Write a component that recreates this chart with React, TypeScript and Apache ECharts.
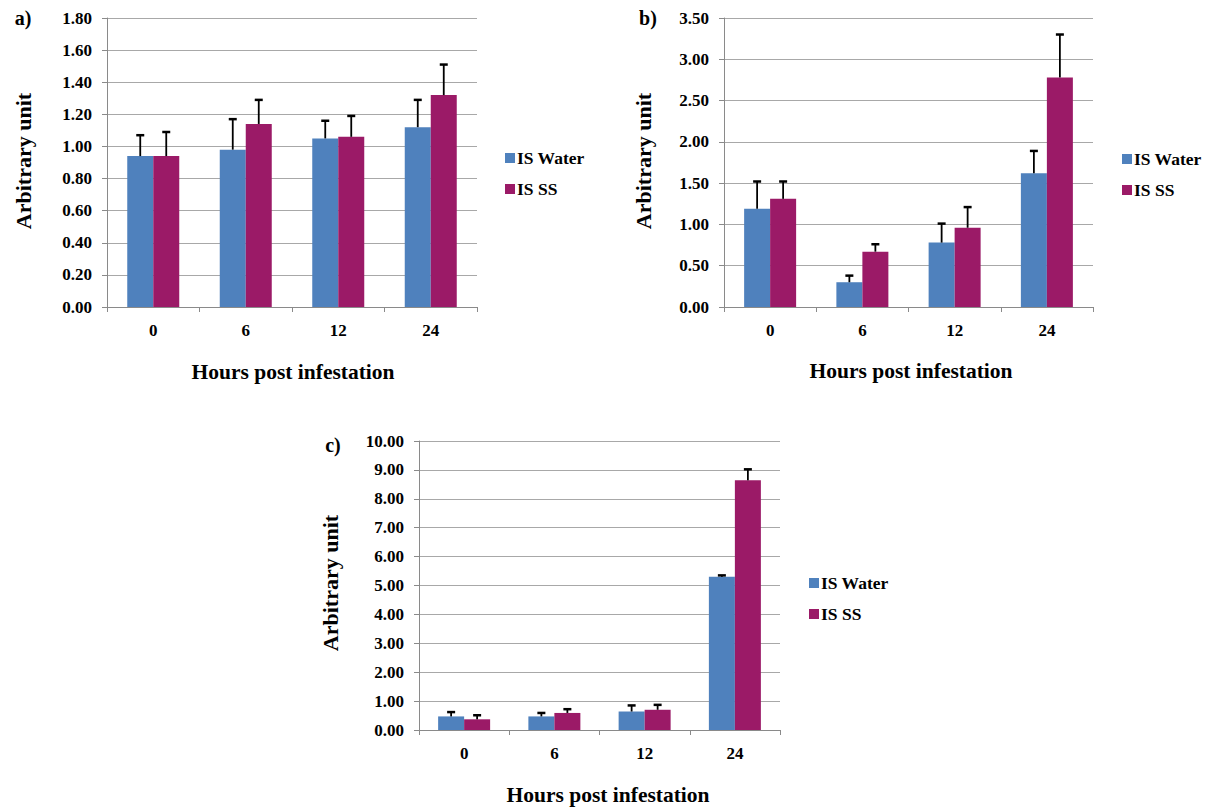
import React, { useEffect, useRef } from "react";
import * as echarts from "echarts";

const categories = ["0", "6", "12", "24"];
const seriesNames = ["IS Water", "IS SS"];

// Panel a
const aWater = [0.94, 0.98, 1.05, 1.12];
const aWaterErr = [0.13, 0.19, 0.11, 0.17];
const aSS = [0.94, 1.14, 1.06, 1.32];
const aSSErr = [0.15, 0.15, 0.13, 0.19];

// Panel b
const bWater = [1.19, 0.3, 0.78, 1.62];
const bWaterErr = [0.33, 0.08, 0.23, 0.27];
const bSS = [1.31, 0.67, 0.96, 2.78];
const bSSErr = [0.21, 0.09, 0.25, 0.52];

// Panel c
const cWater = [0.47, 0.47, 0.64, 5.3];
const cWaterErr = [0.15, 0.12, 0.21, 0.05];
const cSS = [0.37, 0.59, 0.7, 8.64];
const cSSErr = [0.14, 0.13, 0.17, 0.38];

const yMax = [1.8, 3.5, 10];
const yInterval = [0.2, 0.5, 1];
const panelLabels = ["a)", "b)", "c)"];
const xTitle = "Hours post infestation";
const yTitle = "Arbitrary unit";

const FONT = "Liberation Serif";
const BLUE = "#4f81bd";
const MAG = "#9b1a67";
const GRID_C = "#a8a8a8";
const AXIS_C = "#8a8a8a";

export default function App() {
  const ref = useRef<HTMLDivElement>(null);
  useEffect(() => {
    if (!ref.current) return;
    const chart = echarts.init(ref.current, null, { renderer: "svg" });

    const grids = [
      { left: 107, top: 18, width: 370, height: 289 },
      { left: 724, top: 18, width: 369, height: 289 },
      { left: 419, top: 441, width: 361, height: 289 },
    ];
    const barWidths = [26, 26, 26];
    const panels = [
      [aWater, aWaterErr, aSS, aSSErr],
      [bWater, bWaterErr, bSS, bSSErr],
      [cWater, cWaterErr, cSS, cSSErr],
    ];

    const xAxes = grids.map((_, g) => ({
      type: "category",
      gridIndex: g,
      data: categories,
      axisLine: { lineStyle: { color: AXIS_C, width: 1 } },
      axisTick: { show: true, length: 5, lineStyle: { color: AXIS_C } },
      axisLabel: {
        margin: 15,
        color: "#000",
        fontFamily: FONT,
        fontWeight: "bold",
        fontSize: 17,
      },
    }));
    const yAxes = grids.map((_, g) => ({
      type: "value",
      gridIndex: g,
      min: 0,
      max: yMax[g],
      interval: yInterval[g],
      axisLine: { show: true, lineStyle: { color: AXIS_C, width: 1 } },
      axisTick: { show: true, length: 5, lineStyle: { color: AXIS_C } },
      splitLine: { show: true, lineStyle: { color: GRID_C, width: 1 } },
      axisLabel: {
        margin: 15,
        color: "#000",
        fontFamily: FONT,
        fontWeight: "bold",
        fontSize: 17,
        formatter: (v: number) => v.toFixed(2),
      },
    }));

    const series: any[] = [];
    panels.forEach((p, g) => {
      const bw = barWidths[g];
      const [w, we, s, se] = p as number[][];
      series.push({
        type: "bar",
        name: seriesNames[0],
        xAxisIndex: g,
        yAxisIndex: g,
        data: w,
        barWidth: bw,
        barGap: "0%",
        itemStyle: { color: BLUE },
      });
      series.push({
        type: "bar",
        name: seriesNames[1],
        xAxisIndex: g,
        yAxisIndex: g,
        data: s,
        barWidth: bw,
        barGap: "0%",
        itemStyle: { color: MAG },
      });
      [
        [w, we, -1],
        [s, se, 1],
      ].forEach(([vals, errs, sign]: any) => {
        series.push({
          type: "custom",
          xAxisIndex: g,
          yAxisIndex: g,
          silent: true,
          z: 10,
          encode: { x: 0, y: [1, 2] },
          data: (vals as number[]).map((v, i) => [i, v, v + errs[i]]),
          renderItem: (params: any, api: any) => {
            const i = api.value(0);
            const base = api.coord([i, api.value(1)]);
            const top = api.coord([i, api.value(2)]);
            const x = base[0] + (sign * bw) / 2;
            return {
              type: "group",
              children: [
                {
                  type: "line",
                  shape: { x1: x, y1: base[1], x2: x, y2: top[1] },
                  style: { stroke: "#000", lineWidth: 1.8 },
                },
                {
                  type: "line",
                  shape: { x1: x - 4, y1: top[1], x2: x + 4, y2: top[1] },
                  style: { stroke: "#000", lineWidth: 2.5 },
                },
              ],
            };
          },
        });
      });
    });

    const legendPos = [
      { left: 505, top: 149 },
      { left: 1122, top: 150 },
      { left: 809, top: 574 },
    ];
    const legends = legendPos.map((lp) => ({
      ...lp,
      padding: 0,
      orient: "vertical",
      data: seriesNames,
      icon: "rect",
      itemWidth: 10,
      itemHeight: 10,
      itemGap: 13,
      selectedMode: false,
      textStyle: {
        fontFamily: FONT,
        fontWeight: "bold",
        fontSize: 17.5,
        color: "#000",
        lineHeight: 18,
        padding: [0, 0, 0, -3],
      },
    }));

    const textStyle = (size: number) => ({
      fontFamily: FONT,
      fontWeight: "bold",
      fontSize: size,
      fill: "#000",
    });

    const panelLabelPos = [
      { x: 23, y: 18 },
      { x: 648, y: 18 },
      { x: 333, y: 445 },
    ];
    const yTitlePos = [
      { x: 23, y: 161 },
      { x: 643, y: 161 },
      { x: 330, y: 583 },
    ];
    const xTitlePos = [
      { x: 293, y: 372 },
      { x: 911, y: 371 },
      { x: 608, y: 795 },
    ];
    const graphics: any[] = [];
    for (let g = 0; g < 3; g++) {
      graphics.push({
        type: "text",
        x: panelLabelPos[g].x,
        y: panelLabelPos[g].y,
        style: {
          text: panelLabels[g],
          ...textStyle(20),
          align: "center",
          verticalAlign: "middle",
        },
      });
      graphics.push({
        type: "text",
        x: yTitlePos[g].x,
        y: yTitlePos[g].y,
        rotation: Math.PI / 2,
        style: {
          text: yTitle,
          ...textStyle(22),
          align: "center",
          verticalAlign: "middle",
        },
      });
      graphics.push({
        type: "text",
        x: xTitlePos[g].x,
        y: xTitlePos[g].y,
        style: {
          text: xTitle,
          ...textStyle(21.5),
          align: "center",
          verticalAlign: "middle",
        },
      });
    }

    chart.setOption({
      animation: false,
      backgroundColor: "#fff",
      grid: grids,
      xAxis: xAxes,
      yAxis: yAxes,
      legend: legends,
      series,
      graphic: graphics,
    });
    return () => chart.dispose();
  }, []);
  return (
    <div
      ref={ref}
      style={{ position: "absolute", left: 0, top: 0, width: 1212, height: 808 }}
    />
  );
}
